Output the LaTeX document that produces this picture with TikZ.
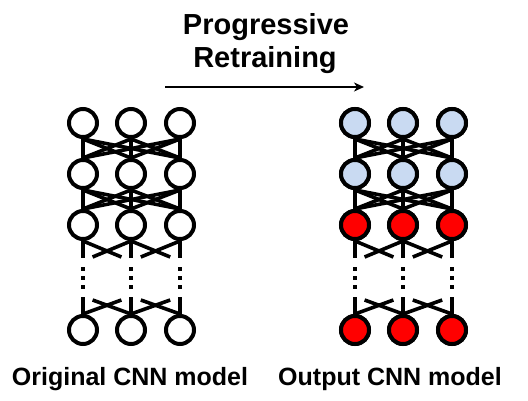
\documentclass[tikz,border=0pt]{standalone}
\usepackage{fontspec}
\setmainfont{Liberation Sans}
\usetikzlibrary{calc,arrows.meta}
\definecolor{nblue}{RGB}{201,218,242}
\definecolor{nred}{RGB}{255,0,0}
\begin{document}
\begin{tikzpicture}[x=1pt,y=-1pt,
 neuron/.style={circle,draw,line width=4pt,minimum size=28pt,inner sep=0pt,fill=white},
 link/.style={line width=3.6pt},
 dotlink/.style={line width=3.6pt,dash pattern=on 4pt off 5pt},
 lbl/.style={font=\bfseries\fontsize{25}{30}\selectfont,anchor=base},
 ttl/.style={font=\bfseries\fontsize{29}{34}\selectfont,anchor=base}]
\useasboundingbox (0,0) rectangle (528,401);
% neurons
\foreach \p/\xa/\xb/\xc in {L/83/131/180, R/355/403/452} {
  \foreach \r/\y in {1/123,2/174,3/225,4/330} {
    \node[neuron] (\p\r1) at (\xa,\y) {};
    \node[neuron] (\p\r2) at (\xb,\y) {};
    \node[neuron] (\p\r3) at (\xc,\y) {};
  }
}
\foreach \r in {1,2} \foreach \i in {1,2,3} { \path (R\r\i) node[neuron,fill=nblue] {}; }
\foreach \r in {3,4} \foreach \i in {1,2,3} { \path (R\r\i) node[neuron,fill=nred] {}; }
% full connections
\foreach \p in {L,R} \foreach \r/\s in {1/2,2/3} \foreach \i in {1,2,3} \foreach \j in {1,2,3} {
  \draw[link] (\p\r\i.south) -- (\p\s\j.north);
}
% partial connections and dots
\foreach \p in {L,R} {
  \foreach \i in {1,2,3} {
    \draw[link] (\p3\i.south) -- ++(0,17);
    \draw[link] (\p4\i.north) -- ++(0,-17);
    \draw[dotlink] ($(\p3\i.south)+(0,26)$) -- ($(\p3\i.south)+(0,48)$);
  }
  \foreach \i/\j in {1/2,2/1,2/3,3/2} {
    \draw[link] (\p3\i.south) -- ($(\p3\i.south)!0.8!(\p3\j.south)+(0,16)$);
    \draw[link] (\p4\i.north) -- ($(\p4\i.north)!0.8!(\p4\j.north)+(0,-14)$);
  }
}
% arrow and texts
\coordinate (a0) at (165,87);
\coordinate (a1) at (364,87);
\draw[line width=1.8pt,-{Stealth[length=10pt,width=9pt,inset=3pt]}] (a0) -- (a1);
\node[ttl] (t1) at (266,35) {Progressive};
\node[ttl] (t2) at (265,68) {Retraining};
\node[lbl] (l1) at (130,385) {Original CNN model};
\node[lbl] (l2) at (390,385) {Output CNN model};
\end{tikzpicture}
\end{document}
